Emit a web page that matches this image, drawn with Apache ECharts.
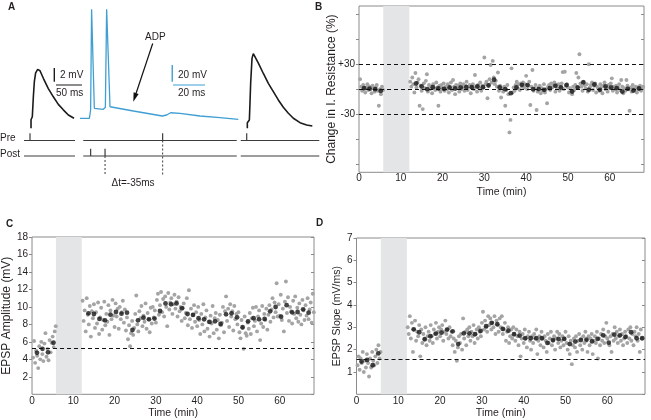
<!DOCTYPE html>
<html><head><meta charset="utf-8">
<script src="https://cdn.jsdelivr.net/npm/echarts@6/dist/echarts.min.js"></script>
<style>html,body{margin:0;padding:0;background:#fff}#c{width:651px;height:420px}</style>
</head><body><div id="c"></div>
<script>
// ---------------- DATA ----------------
// sampling of the individual (gray) measurements, minutes
const SAMPLE_STEP = 0.25;
const PRE_START = 0.25;
const POST_START = 12.25;
// pairing/induction window (shaded) in minutes
const pairingWindow = [5.8, 12.05];
// time of the running means (black dots), minutes
const meanTimes = [1.2, 2.53, 3.87, 5.2,
  13.67, 15.0, 16.33, 17.67, 19.0, 20.33, 21.67, 23.0, 24.33, 25.67, 27.0, 28.33, 29.67, 31.0,
  32.33, 33.67, 35.0, 36.33, 37.67, 39.0, 40.33, 41.67, 43.0, 44.33, 45.67, 47.0, 48.33, 49.67,
  51.0, 52.33, 53.67, 55.0, 56.33, 57.67, 59.0, 60.33, 61.67, 63.0, 64.33, 65.67, 67.0, 68.33];
const timeTicks = [0, 10, 20, 30, 40, 50, 60];

// Panel B: change in input resistance (%)
const bGrayPre = [12, 3, -2, 5, 1, -4, 2, 6, -1, 3, 0, -5, 4, 1, -3, 2, 5, -2, -20, 0, -6, 3, -1];
const bGrayPost = [
  9, 3, 14, 6, -4, 19.5, 2, 8, 12, -20,
  4, -2, -24, 7, 1, 10, 18, -3, 5, 0,
  3, -5, 6, 1, -1, 8, 2, -20, 4, -3,
  5, 1, 7, -2, 3, 0, 6, -4, 2, 8,
  -1, 11, 3, -6, 5, 1, 4, -3, 7, 0,
  2, 6, -2, 4, 9, -1, 3, 5, -5, 2,
  6, 0, 17, 3, -3, 5, 1, 8, -2, 4,
  2, 38, 6, 9, -11, 5, 12, 29, 8, 34,
  14, 6, 10, 3, 20, -2, 4, -10, 1, -3,
  3, -20, -1, 5, -6, -52, -37, 25, -4, 2,
  -2, 5, 9, 1, 6, -1, 7, 3, 8, 2,
  6, 16, 0, 4, 9, -19, 3, 23, -2, 1,
  5, -25, -3, 2, 4, -5, 1, -2, 6, -4,
  0, -17, 3, 5, -1, 7, 2, 4, 8, -3,
  5, 1, 6, -2, 3, 7, 20.5, 0, 21, 4,
  6, 2, -4, 1, -3, -6, 3, -1, 5, 19.5,
  2, 14, 42, 7, 3, -2, 9, 5, 1, 6,
  -3, 30, 2, 5, 8, -1, 4, 7, -4, 3,
  1, -2, 6, 3, -5, 4, 8, 0, 2, -3,
  5, 1, 7, 13, -2, 3, 0, 4, -4, 2,
  6, -1, 11, 3, -5, 1, -2, 11, 4, 0,
  -26, 2, -3, 5, 1, -1, 3, -4, 2, 0,
  4, -2, 1, 3, -1];
const bMeans = [1.2, 0.7, 0, -2.1,
  6.8, 3.2, 0, 2.4, 0.8, 0.4, 2, 0.8, 2, 2.4, 2.4, 3.2, 2.4, 4.4, 11.3, 2,
  0, -4.9, 2, 5.2, 4.9, 0, 0, -0.8, 1.2, 4, 2, 4.9, -2.9, 2, 8.1, -0.8,
  5.6, -0.8, 3.2, 2, 1.2, -2.9, 0.4, -1.6, 0.8, 2];
const bRefLines = [30, 0, -30];
const bTickValues = [-90, -60, -30, 0, 30, 60, 90];
const bLabelValues = [-30, 30];

// Panel C: EPSP amplitude (mV)
const cGrayPre = [4.2, 6.1, 3.6, 5.0, 4.4, 3.0, 5.5, 4.0, 6.0, 4.6, 3.8, 5.8, 7.0, 4.3, 5.2, 3.9, 6.2, 4.8, 5.9, 6.6, 5.4, 7.2, 7.8];
const cGrayPost = [
  10.7, 8.4, 9.6, 7.2, 11.0, 9.1, 8.0, 10.1, 6.6, 9.5,
  8.7, 10.3, 7.6, 9.4, 8.1, 10.5, 6.9, 8.8, 9.9, 7.4,
  8.5, 10.6, 7.9, 9.2, 8.3, 10.2, 6.8, 9.6, 8.6, 10.8,
  9.0, 7.7, 10.4, 8.9, 9.8, 7.5, 10.0, 8.6, 9.4, 10.7,
  8.2, 9.7, 7.3, 8.8, 6.3, 7.9, 5.5, 7.0, 8.4, 6.8,
  7.6, 9.2, 11.3, 8.0, 7.2, 9.5, 8.7, 10.1, 7.8, 9.0,
  8.3, 10.4, 7.5, 9.3, 8.6, 7.1, 9.9, 8.1, 10.0, 8.8,
  9.6, 8.2, 10.8, 11.5, 9.1, 10.2, 11.7, 9.4, 10.9, 8.9,
  11.2, 10.0, 7.8, 11.6, 9.7, 10.5, 11.0, 9.2, 10.3, 11.4,
  9.8, 10.6, 8.9, 11.1, 9.5, 10.0, 8.4, 9.9, 10.4, 8.7,
  9.3, 11.0, 7.9, 11.9, 8.6, 9.8, 7.6, 9.1, 10.2, 8.3,
  9.4, 7.8, 10.0, 8.5, 6.9, 9.2, 8.0, 10.3, 7.2, 8.8,
  9.6, 7.5, 8.3, 6.6, 9.0, 8.1, 10.1, 7.0, 8.7, 9.3,
  7.4, 8.5, 6.4, 9.1, 7.9, 8.2, 10.0, 7.1, 9.5, 11.2,
  8.4, 9.8, 7.7, 10.3, 8.9, 9.5, 7.3, 10.1, 8.6, 9.2,
  8.0, 9.4, 7.1, 6.4, 8.5, 7.6, 5.2, 8.9, 7.0, 6.7,
  8.2, 7.5, 9.3, 6.9, 8.7, 9.9, 7.8, 8.4, 10.0, 7.2,
  8.9, 9.6, 6.2, 8.1, 10.1, 7.7, 9.2, 8.5, 9.8, 7.4,
  9.1, 10.2, 8.3, 9.7, 11.0, 8.8, 10.5, 9.4, 12.7, 8.9,
  10.3, 9.0, 11.4, 8.5, 9.8, 7.2, 10.6, 12.9, 9.3, 11.1,
  8.4, 10.0, 9.5, 8.1, 10.7, 9.2, 11.2, 8.7, 9.9, 8.3,
  10.4, 9.1, 8.0, 10.8, 9.6, 8.5, 10.2, 9.0, 11.0, 8.6,
  9.7, 10.5, 8.2, 11.5, 9.4];
const cMeans = [4.75, 5.2, 4.8, 5.9,
  9.27, 9.19, 8.62, 8.47, 9.11, 9.42, 9.23, 9.34, 7.36, 8.47, 8.77, 8.58, 8.66, 9.53,
  10.4, 10.3, 10.4, 9.84, 9.19, 9.08, 8.70, 8.58, 8.28, 8.35, 8.05, 9.15, 9.27, 8.81,
  7.67, 8.35, 8.70, 8.58, 8.62, 9.5, 9.99, 8.88, 10.2, 9.38, 9.42, 9.72, 9.34, 9.53];
const cBaseline = 5.3;

// Panel D: EPSP slope (mV/ms)
const dGrayPre = [1.3, 1.7, 1.1, 1.6, 1.4, 1.9, 1.0, 1.5, 1.2, 1.8, 1.4, 0.8, 1.6, 1.2, 1.9, 1.5, 1.3, 1.7, 2.0, 1.4, 2.2, 1.6, 1.9];
const dGrayPost = [
  3.0, 2.7, 3.5, 2.5, 3.2, 1.9, 2.9, 3.3, 2.4, 2.8,
  2.6, 3.1, 1.7, 2.9, 2.3, 2.7, 2.5, 3.0, 2.2, 2.6,
  2.8, 2.4, 3.1, 2.6, 2.3, 2.9, 2.7, 3.2, 2.5, 2.8,
  3.0, 2.6, 2.9, 3.1, 2.4, 2.8, 3.3, 2.7, 2.9, 2.5,
  3.0, 2.6, 2.8, 2.2, 2.5, 1.9, 2.4, 1.5, 2.1, 2.6,
  2.3, 2.7, 2.0, 3.4, 2.5, 2.8, 2.2, 2.9, 2.6, 3.0,
  2.4, 2.8, 2.6, 3.1, 2.3, 2.7, 2.9, 2.5, 3.0, 2.8,
  2.6, 3.2, 3.7, 2.9, 3.3, 3.0, 2.8, 3.5, 3.1, 3.4,
  2.9, 3.2, 3.0, 3.5, 2.7, 3.3, 3.1, 2.8, 3.4, 3.0,
  3.5, 2.7, 2.9, 3.2, 2.4, 2.8, 3.0, 2.3, 2.6, 2.9,
  2.5, 3.0, 2.7, 2.4, 2.9, 2.6, 2.2, 2.8, 1.7, 2.5,
  2.7, 2.3, 2.9, 2.5, 2.1, 2.6, 2.8, 2.4, 2.0, 2.6,
  2.3, 2.7, 2.5, 2.9, 1.8, 2.4, 2.6, 2.2, 2.8, 2.5,
  2.1, 2.6, 2.4, 1.9, 2.7, 2.3, 2.5, 2.8, 2.2, 2.4,
  2.6, 2.0, 2.5, 2.8, 2.3, 2.7, 2.1, 2.4, 2.6, 2.2,
  2.5, 2.8, 2.3, 2.0, 2.6, 1.8, 2.4, 1.35, 2.2, 2.5,
  2.1, 2.6, 1.9, 2.4, 2.7, 2.2, 2.5, 2.0, 2.6, 2.3,
  2.8, 2.4, 1.9, 2.6, 2.2, 2.5, 2.7, 1.8, 2.4, 2.6,
  2.3, 2.8, 1.6, 2.5, 2.2, 2.7, 2.4, 2.9, 2.3, 2.6,
  3.2, 2.5, 2.8, 2.2, 2.6, 1.9, 2.7, 2.4, 3.0, 2.5,
  2.8, 2.3, 2.6, 2.9, 2.4, 2.7, 2.2, 2.5, 2.8, 2.6,
  2.3, 2.9, 2.5, 3.0, 2.4, 2.7, 2.2, 2.8, 2.6, 3.0,
  2.4, 2.7, 1.9, 2.9, 2.5];
const dMeans = [1.47, 1.54, 1.3, 1.83,
  2.91, 2.78, 2.46, 2.6, 2.72, 2.76, 2.9, 2.82, 2.25, 2.73, 2.73, 2.69, 2.84, 3.05,
  3.2, 3.14, 2.93, 2.85, 2.69, 2.63, 2.51, 2.51, 2.51, 2.51, 2.3, 2.43, 2.48, 2.48,
  2.25, 2.36, 2.43, 2.45, 2.37, 2.48, 2.64, 2.31, 2.67, 2.64, 2.57, 2.78, 2.51, 2.51];
const dBaseline = 1.58;

// Panel A traces: [time (ms), membrane potential relative to rest (mV)]
const preEpsp = [[5.8, -0.3], [5.8, 0.95], [6.8, 0.85], [8.3, 1.4], [10.3, 4.3], [12.2, 6.5], [14.7, 7.8],
  [18.6, 8.3], [23.1, 8.1], [29.5, 7.0], [39.1, 5.5], [48.7, 4.3], [58.3, 3.2], [67.9, 2.4], [77.6, 1.65], [88.5, 1.17]];
const pairingTrace = [[1.25, 0], [7.1, 0], [7.9, 10], [8.5, 130.8], [9.2, 130.8], [10.2, 12], [11.25, 10],
  [15.8, 10.8], [17.1, 13.2], [17.9, 130.8], [18.5, 130.8], [20, 13.9], [21, 12], [34.6, 8.8], [52.7, 2.8],
  [53.3, 1.2], [55.4, 4], [57.9, 6.7], [63.75, 6], [76.25, 2.8], [88.75, 0.8], [100.2, -1.2]];
const postEpsp = [[6.4, -0.3], [6.4, 0.53], [8.3, 0.34], [10.3, 0.92], [11.5, 3.35], [12.8, 6.27], [15.4, 9.9],
  [17.9, 10.6], [21.2, 10.4], [27.6, 9.2], [37.2, 7.7], [46.8, 6.27], [56.4, 5.05], [66, 3.84], [75.6, 2.77],
  [85.3, 1.9], [94.9, 1.17], [107.7, 0.53], [120.5, 0.19], [131.4, 0.04]];
// scale bars
const epspBar = { ms: 50, mV: 2 };
const spikeBar = { ms: 20, mV: 20 };
// stimulus timing diagram (ms, per trace)
const leftTimingSpan = [-7.7, 90.4];
const leftPreStims = [3.85];
const midTimingSpan = [3.3, 99.2];
const midPreStims = [52.9];
const midPostStims = [7.9, 16.9];
const rightTimingSpan = [-6.3, 144.8];
const rightPreStims = [5.2];

// ---------------- CHART ----------------
const FONT = 'Liberation Sans, Arial, Helvetica, sans-serif';
const TXT = '#231f20';
const FRAME = '#8a8a8a';
const GRAY = '#a4a4a4';
const BLACK = '#151515';
const BLUE = '#3f9fd2';

function sampled(start, values) { return values.map((v, i) => [start + i * SAMPLE_STEP, v]); }
function paired(times, values) { return values.map((v, i) => [times[i], v]); }

const chart = echarts.init(document.getElementById('c'), null, { renderer: 'canvas' });

const grids = [
  { left: 359, top: 6, width: 285, height: 166.3 },       // B
  { left: 28.3, top: 237, width: 285.7, height: 157.3 },  // C
  { left: 356.5, top: 238, width: 288.5, height: 156.3 }, // D
  { left: 20.2, top: 44, width: 67.6, height: 96 },       // A left trace
  { left: 78, top: 0, width: 168, height: 130 },          // A pairing trace
  { left: 238.8, top: 44, width: 83.2, height: 96 },      // A right trace
  { left: 20.2, top: 130, width: 67.6, height: 50 },      // timing left
  { left: 78, top: 130, width: 168, height: 50 },         // timing middle
  { left: 238.8, top: 130, width: 83.2, height: 50 }      // timing right
].map((g, i) => Object.assign({ containLabel: false }, g,
  i < 3 ? { show: true, borderColor: FRAME, borderWidth: 1, backgroundColor: 'transparent' } : { show: false }));

function timeAxis(gi, max, nameGap, margin) {
  return {
    gridIndex: gi, type: 'value', min: 0, max: max, interval: 10,
    axisLine: { show: false }, axisTick: { show: false }, splitLine: { show: false },
    axisLabel: { fontSize: 10, color: TXT, margin: margin, showMaxLabel: false, fontFamily: FONT },
    name: 'Time (min)', nameLocation: 'middle', nameGap: nameGap,
    nameTextStyle: { fontSize: 10.5, color: TXT, fontFamily: FONT }
  };
}
function hiddenAxis(gi, min, max) {
  return { gridIndex: gi, type: 'value', min: min, max: max, show: false, splitLine: { show: false } };
}

const xAxes = [
  timeAxis(0, 68.2, 14, 1),
  timeAxis(1, 68.3, 12, 2),
  timeAxis(2, 69.0, 12, 2),
  hiddenAxis(3, -15, 115), hiddenAxis(4, 0, 105), hiddenAxis(5, -10, 150),
  hiddenAxis(6, -15, 115), hiddenAxis(7, 0, 105), hiddenAxis(8, -10, 150)
];

const yAxes = [
  { gridIndex: 0, type: 'value', min: -100, max: 100,
    axisLine: { show: false }, splitLine: { show: false },
    axisTick: { show: true, inside: false, length: 3, lineStyle: { color: FRAME }, customValues: bTickValues },
    axisLabel: { fontSize: 10, color: TXT, margin: 4, customValues: bLabelValues, fontFamily: FONT,
      formatter: v => (v > 0 ? '+' + v : String(v)) },
    name: 'Change in I. Resistance (%)', nameLocation: 'middle', nameGap: 21, nameMoveOverlap: false,
    nameTextStyle: { fontSize: 12, color: TXT, fontFamily: FONT } },
  { gridIndex: 0, type: 'value', position: 'right', min: -100, max: 100,
    axisLine: { show: false }, splitLine: { show: false }, axisLabel: { show: false },
    axisTick: { show: true, inside: true, length: 3, lineStyle: { color: FRAME }, customValues: bTickValues } },
  { gridIndex: 1, type: 'value', min: 0, max: 18, interval: 2,
    axisLine: { show: false }, splitLine: { show: false },
    axisTick: { show: true, inside: false, length: 3, lineStyle: { color: FRAME } },
    axisLabel: { fontSize: 10, color: TXT, margin: 4, showMinLabel: false, fontFamily: FONT },
    name: 'EPSP Amplitude (mV)', nameLocation: 'middle', nameGap: 15,
    nameTextStyle: { fontSize: 12, color: TXT, fontFamily: FONT } },
  { gridIndex: 1, type: 'value', position: 'right', min: 0, max: 18, interval: 2,
    axisLine: { show: false }, splitLine: { show: false }, axisLabel: { show: false },
    axisTick: { show: true, inside: true, length: 3, lineStyle: { color: FRAME } } },
  { gridIndex: 2, type: 'value', min: 0, max: 7, interval: 1,
    axisLine: { show: false }, splitLine: { show: false },
    axisTick: { show: true, inside: false, length: 3, lineStyle: { color: FRAME } },
    axisLabel: { fontSize: 10, color: TXT, margin: 4, showMinLabel: false, fontFamily: FONT },
    name: 'EPSP Slope (mV/ms)', nameLocation: 'middle', nameGap: 14,
    nameTextStyle: { fontSize: 10.5, color: TXT, fontFamily: FONT } },
  { gridIndex: 2, type: 'value', position: 'right', min: 0, max: 7, interval: 1,
    axisLine: { show: false }, splitLine: { show: false }, axisLabel: { show: false },
    axisTick: { show: true, inside: true, length: 3, lineStyle: { color: FRAME } } },
  hiddenAxis(3, -2, 12), hiddenAxis(4, -14, 142), hiddenAxis(5, -2, 12),
  hiddenAxis(6, 0, 10), hiddenAxis(7, 0, 10), hiddenAxis(8, 0, 10)
];

const series = [];
function timecoursePanel(xi, yi, grayPre, grayPost, means, refLines) {
  series.push({
    type: 'line', xAxisIndex: xi, yAxisIndex: yi, data: [], z: 1, silent: true,
    markArea: { silent: true, itemStyle: { color: '#e4e5e7' },
      data: [[{ xAxis: pairingWindow[0] }, { xAxis: pairingWindow[1] }]] },
    markLine: { silent: true, symbol: ['none', 'none'], label: { show: false },
      lineStyle: { color: '#111', type: [4, 3], width: 1.2 },
      data: refLines.map(v => ({ yAxis: v })) }
  });
  series.push({
    type: 'scatter', xAxisIndex: xi, yAxisIndex: yi, z: 3, silent: true,
    symbolSize: 3.9, itemStyle: { color: GRAY, opacity: 1 },
    data: sampled(PRE_START, grayPre).concat(sampled(POST_START, grayPost))
  });
  series.push({
    type: 'scatter', xAxisIndex: xi, yAxisIndex: yi, z: 4, silent: true,
    symbolSize: 4.8, itemStyle: { color: BLACK },
    data: paired(meanTimes, means)
  });
}
timecoursePanel(0, 0, bGrayPre, bGrayPost, bMeans, bRefLines);
timecoursePanel(1, 2, cGrayPre, cGrayPost, cMeans, [cBaseline]);
timecoursePanel(2, 4, dGrayPre, dGrayPost, dMeans, [dBaseline]);

function trace(xi, yi, data, color, width, dashed) {
  series.push({ type: 'line', xAxisIndex: xi, yAxisIndex: yi, data: data, showSymbol: false, symbol: 'none',
    clip: false, silent: true, z: 5,
    lineStyle: { color: color, width: width, type: dashed ? [2, 2] : 'solid', cap: 'butt' } });
}
trace(3, 6, preEpsp, '#1b1b1b', 1.6);
trace(4, 7, pairingTrace, BLUE, 1.3);
trace(5, 8, postEpsp, '#1b1b1b', 1.6);
// scale bars
trace(3, 6, [[50.6, 6.5], [50.6, 6.5 + epspBar.mV]], '#1b1b1b', 1.4);
trace(3, 6, [[53.8, 6.02], [53.8 + epspBar.ms, 6.02]], '#1b1b1b', 1.2);
trace(4, 7, [[58.9, 43.9], [58.9, 43.9 + spikeBar.mV]], BLUE, 1.4);
trace(4, 7, [[59.4, 40], [59.4 + spikeBar.ms, 40]], BLUE, 1.2);

// stimulus timing diagram
const PRE_ROW = 7.9, POST_ROW = 4.8, STIM_H = 1.45, DASH_END = 1.0, TCOL = '#3c3c3c';
function timing(xi, yi, span, preStims, postStims, dashedPre, dashedPost) {
  trace(xi, yi, [[span[0], PRE_ROW], [span[1], PRE_ROW]], TCOL, 1.2);
  trace(xi, yi, [[span[0], POST_ROW], [span[1], POST_ROW]], TCOL, 1.2);
  preStims.forEach(t => trace(xi, yi, [[t, PRE_ROW], [t, PRE_ROW + STIM_H]], TCOL, 1.2));
  postStims.forEach(t => trace(xi, yi, [[t, POST_ROW], [t, POST_ROW + STIM_H]], TCOL, 1.2));
  dashedPre.forEach(t => trace(xi, yi, [[t, PRE_ROW], [t, DASH_END]], TCOL, 1, true));
  dashedPost.forEach(t => trace(xi, yi, [[t, POST_ROW], [t, DASH_END]], TCOL, 1, true));
}
timing(6, 9, leftTimingSpan, leftPreStims, [], [], []);
timing(7, 10, midTimingSpan, midPreStims, midPostStims, [midPreStims[0]], [midPostStims[1]]);
timing(8, 11, rightTimingSpan, rightPreStims, [], [], []);

function txt(text, x, y, size, bold, color) {
  return { type: 'text', silent: true, style: { text: text, x: x, y: y, fill: color || TXT,
    font: (bold ? 'bold ' : '') + size + 'px ' + FONT, verticalAlign: 'middle', align: 'left' } };
}
const graphic = [
  txt('A', 8, 7, 10, true), txt('B', 315, 7, 10, true), txt('C', 6, 224, 10, true), txt('D', 316, 223, 10, true),
  txt('2 mV', 60, 75, 10), txt('50 ms', 56, 93.5, 10),
  txt('20 mV', 178, 75, 10), txt('20 ms', 178, 93.5, 10),
  txt('ADP', 145, 37, 10),
  txt('Pre', 0, 138.5, 10), txt('Post', 0, 154.5, 10),
  txt('\u0394t=-35ms', 111.5, 183, 10),
  { type: 'line', silent: true, shape: { x1: 152.7, y1: 43.5, x2: 136.1, y2: 93.2 }, style: { stroke: '#111', lineWidth: 1.2 } },
  { type: 'polygon', silent: true, shape: { points: [[133.3, 101.7], [138.6, 94.0], [133.6, 92.3]] }, style: { fill: '#111' } }
];

chart.setOption({
  animation: false,
  backgroundColor: '#fff',
  textStyle: { fontFamily: FONT },
  grid: grids,
  xAxis: xAxes,
  yAxis: yAxes,
  series: series,
  graphic: graphic
});
</script></body></html>
